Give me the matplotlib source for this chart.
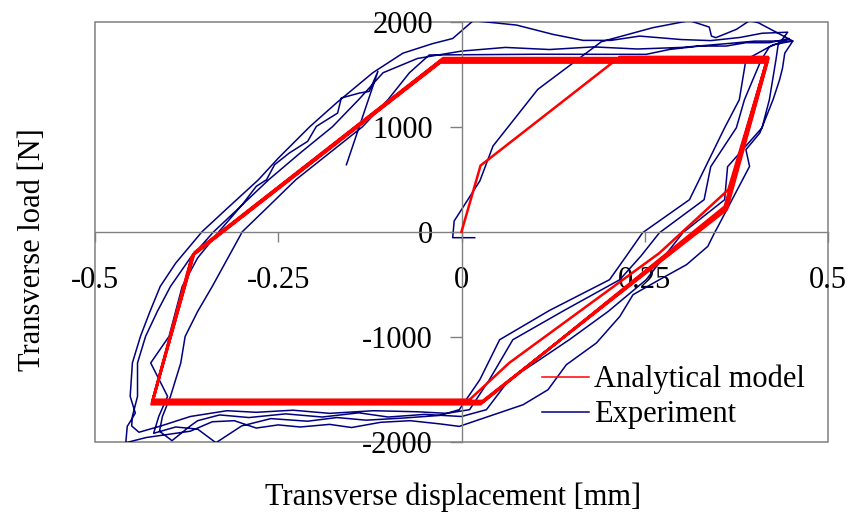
import numpy as np
import matplotlib
matplotlib.use("Agg")
import matplotlib.pyplot as plt
from matplotlib.patches import Rectangle

plt.rcParams["font.family"] = ["Liberation Serif", "DejaVu Serif"]

# ---------------- data ----------------
# Analytical model: first loading, first unloading, then repeated cycles
red_x = [0, 0.026, 0.116, 0.216, 0.418, 0.364, 0.270, 0.065, 0.011, -0.421, -0.364,
         -0.025, 0.419, 0.362, 0.029, -0.421, -0.365,
         -0.026, 0.418, 0.361, 0.028, -0.422, -0.366,
         -0.027, 0.417, 0.360, 0.027, -0.422, -0.367,
         -0.028, 0.416, 0.359, 0.026, -0.423, -0.368,
         -0.029, 0.415]
red_y = [0, 630, 1120, 1665, 1665, 400, -203, -1250, -1600, -1600, -195,
         1654, 1654, 210, -1611, -1611, -205,
         1643, 1643, 220, -1622, -1622, -215,
         1632, 1632, 230, -1633, -1633, -225,
         1621, 1621, 240, -1644, -1644, -235,
         1610, 1610]

# Experiment, cycle by cycle (displacement [mm], load [N])
exp1_x = [0.018, -0.012, -0.010, 0.025, 0.043, 0.104, 0.191, 0.231, 0.261, 0.311, 0.338, 0.341,
          0.347, 0.375, 0.393, 0.405, 0.452,
          0.441, 0.438, 0.434, 0.425, 0.407, 0.388, 0.393, 0.350, 0.345, 0.336, 0.307, 0.270,
          0.234, 0.216, 0.184, 0.143, 0.118, 0.084, -0.003,
          -0.03, -0.07, -0.11, -0.15, -0.18, -0.22, -0.25, -0.28, -0.31, -0.34, -0.37, -0.40,
          -0.43, -0.458,
          -0.456, -0.449, -0.445, -0.452, -0.449, -0.438, -0.425, -0.411, -0.390, -0.354, -0.320,
          -0.277, -0.250, -0.207, -0.170, -0.121, -0.08, -0.04, -0.012, 0.016,
          0.075, 0.125, 0.166, 0.204, 0.243, 0.30, 0.34, 0.38, 0.41, 0.445]
exp1_y = [-57, -57, 102, 483, 816, 1355, 1810, 1886, 1943, 2010, 1949, 1863,
          1848, 1927, 2010, 1990, 1816,
          1700, 1560, 1448, 1257, 940, 781, 622, 51, -13, -140, -314, -457,
          -600, -807, -1060, -1267, -1505, -1648, -1854,
          -1830, -1800, -1815, -1865, -1835, -1860, -1840, -1870, -1800, -1810, -1900, -1930,
          -1960, -2010,
          -1854, -1775, -1727, -1568, -1250, -997, -760, -521, -300, 0, 220,
          495, 700, 1000, 1230, 1514, 1700, 1790, 1840, 2010,
          1968, 1879, 1822, 1822, 1863, 1830, 1820, 1850, 1890, 1900]

exp2_x = [0.432, 0.429, 0.420, 0.410, 0.363, 0.359, 0.302, 0.275, 0.252, 0.20, 0.147, 0.100,
          0.065, 0.034, 0.0,
          -0.05, -0.10, -0.14, -0.19, -0.24, -0.29, -0.33, -0.36, -0.37, -0.395, -0.412, -0.408,
          -0.397, -0.383, -0.377, -0.360, -0.340, -0.299, -0.262, -0.226, -0.180, -0.135, -0.100,
          -0.071, -0.044,
          0.10, 0.252, 0.284, 0.325, 0.361, 0.388, 0.420, 0.447]
exp2_y = [1780, 1638, 1257, 990, 619, 305, -10, -250, -457, -760, -1029, -1250,
          -1410, -1695, -1760,
          -1740, -1765, -1725, -1765, -1735, -1770, -1745, -1800, -1850, -1990, -1900, -1759,
          -1568, -1250, -997, -760, -521, 0, 250, 495, 750, 1000, 1260,
          1514, 1683,
          1690, 1689, 1736, 1768, 1768, 1800, 1800, 1840]

exp3_x = [0.420, 0.409, 0.386, 0.375, 0.340, 0.331, 0.270, 0.245, 0.216, 0.140, 0.070, 0.038,
          0.011, -0.02,
          -0.06, -0.12, -0.18, -0.23, -0.28, -0.32, -0.37, -0.41, -0.44, -0.45,
          -0.449, -0.442, -0.442, -0.431, -0.415, -0.397, -0.370, -0.338, -0.300, -0.263, -0.220,
          -0.176, -0.140, -0.107, -0.06, 0.0,
          0.06, 0.12, 0.18, 0.24, 0.30, 0.36, 0.40, 0.452]
exp3_y = [1760, 1638, 1257, 990, 619, 305, -10, -230, -457, -750, -1029, -1410,
          -1695, -1730,
          -1715, -1705, -1730, -1700, -1720, -1705, -1760, -1850, -1910, -1850,
          -1759, -1568, -1250, -997, -760, -521, -250, 0, 250, 495, 750,
          1000, 1260, 1514, 1650, 1720,
          1755, 1735, 1760, 1740, 1755, 1790, 1815, 1816]

exp4_x = [0.425, 0.388, 0.379, 0.359, 0.333, 0.311, 0.247, 0.225, 0.202, 0.120, 0.052, 0.025,
          -0.003, -0.03,
          -0.08, -0.13, -0.17, -0.21, -0.26, -0.30, -0.335, -0.36, -0.39, -0.42, -0.413,
          -0.401, -0.424, -0.399, -0.390, -0.381, -0.360, -0.331, -0.300, -0.280, -0.266, -0.255,
          -0.235, -0.210, -0.198, -0.169, -0.164, -0.139, -0.126, -0.114, -0.157]
exp4_y = [1780, 1638, 1257, 990, 619, 305, -10, -230, -457, -750, -1029, -1410,
          -1695, -1750,
          -1775, -1795, -1770, -1805, -1780, -1850, -2010, -1880, -1860, -1920, -1759,
          -1568, -1250, -997, -760, -521, -250, 0, 250, 432, 495, 638,
          749, 860, 1003, 1130, 1273, 1321, 1336, 1527, 638]

x_ticks = [-0.5, -0.25, 0, 0.25, 0.5]
x_tick_labels = ["-0.5", "-0.25", "0", "0.25", "0.5"]
y_ticks = [-2000, -1000, 0, 1000, 2000]
y_tick_labels = ["-2000", "-1000", "0", "1000", "2000"]

# ---------------- figure ----------------
FS = 22
GRAY = "#808080"

fig = plt.figure(figsize=(8.48, 5.18), dpi=100)
ax = fig.add_axes([95 / 848, 76.3 / 518, 733 / 848, 420 / 518])

exp_x = exp1_x + exp2_x + exp3_x + exp4_x
exp_y = exp1_y + exp2_y + exp3_y + exp4_y
line_exp, = ax.plot(exp_x, exp_y, color="#000080", lw=1.1, zorder=2, label="Experiment")
line_red, = ax.plot(red_x, red_y, color="#FF0000", lw=1.8, zorder=3, label="Analytical model")

ax.set_xlim(-0.5, 0.5)
ax.set_ylim(-2000, 2000)

# axes crossing at the origin, plus a gray plot-area frame
for s in ("top", "right"):
    ax.spines[s].set_visible(False)
ax.spines["left"].set_position(("data", 0))
ax.spines["bottom"].set_position(("data", 0))
for s in ("left", "bottom"):
    ax.spines[s].set_color(GRAY)
    ax.spines[s].set_linewidth(1.0)
ax.add_patch(Rectangle((0, 0), 1, 1, transform=ax.transAxes, fill=False,
                       ec=GRAY, lw=1.1, clip_on=False, zorder=1))

ax.set_xticks(x_ticks)
ax.set_xticklabels(x_tick_labels)
ax.set_yticks(y_ticks)
ax.set_yticklabels(y_tick_labels)
ax.tick_params(axis="x", direction="out", length=7.5, width=1, color=GRAY,
               pad=17, labelsize=FS)
ax.tick_params(axis="y", direction="out", length=8.5, width=1, color=GRAY,
               pad=12, labelsize=FS)

fig.text(33 / 848, 1 - 250 / 518, "Transverse load [N]", rotation=90,
         ha="center", va="center", fontsize=FS)
fig.text(453 / 848, 1 - 497 / 518, "Transverse displacement [mm]",
         ha="center", va="center", fontsize=FS)

leg = ax.legend(handles=[line_red, line_exp], loc="upper left",
                bbox_to_anchor=((542 - 95) / 733, (442 - 365) / 420),
                frameon=False, fontsize=FS, handlelength=1.55, handletextpad=0.15,
                labelspacing=0.2, borderpad=0, borderaxespad=0)
for h in leg.get_lines():
    h.set_linewidth(1.1)

fig.savefig("out.png", dpi=100)
